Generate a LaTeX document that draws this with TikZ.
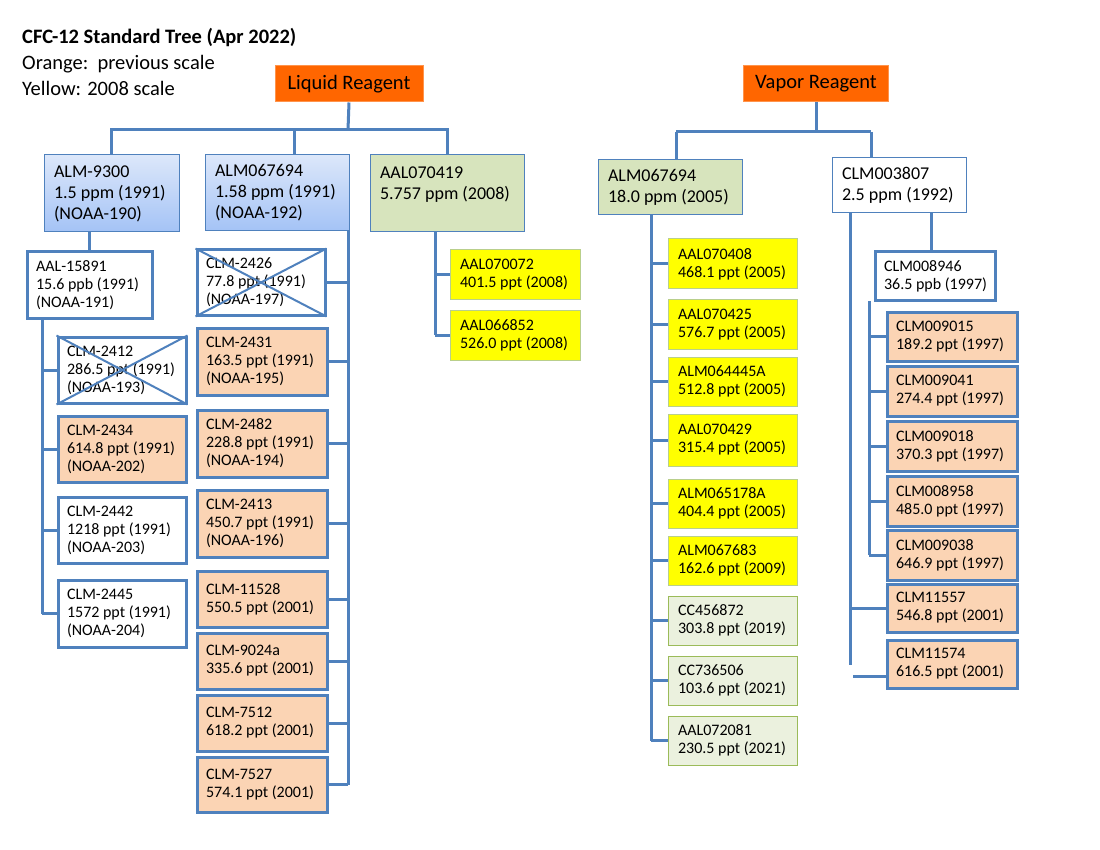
\documentclass[tikz,border=0pt]{standalone}
\usepackage{fontspec}
\setmainfont{Carlito}
\usetikzlibrary{fit}
\definecolor{ln}{HTML}{4F81BD}
\definecolor{orng}{HTML}{FF6600}
\definecolor{peach}{HTML}{FBD4B4}
\definecolor{grn}{HTML}{D7E4BD}
\definecolor{lgrn}{HTML}{EBF1DE}
\definecolor{lgb}{HTML}{9BBB59}
\definecolor{ylw}{HTML}{FFFF00}
\definecolor{bltop}{HTML}{DCE7FA}
\definecolor{blbot}{HTML}{A4C3F6}
\tikzset{
 conn/.style={draw=ln,line width=3pt},
 bx/.style={inner sep=0pt},
 thinb/.style={draw=ln,line width=1pt},
 thickb/.style={draw=ln,line width=3pt,fill=white},
 orb/.style={draw=ln,line width=3pt,fill=peach},
 yb/.style={draw=lgb!70,line width=1pt,fill=ylw},
 gb/.style={draw=lgb,line width=1pt,fill=lgrn},
 topgrn/.style={draw=ln,line width=1pt,fill=grn},
 blueg/.style={draw=ln,line width=1pt,top color=bltop,bottom color=blbot},
 head/.style={draw=orng!70,line width=1pt,fill=orng,font=\fontsize{20.5}{24}\selectfont},
 big/.style={font=\fontsize{18}{21}\selectfont},
 sm/.style={font=\fontsize{16}{18}\selectfont},
}
\newcommand{\mybx}[8]{%
 \node[bx,fit={(#2,#3)(#4,#5)},#6] (#1) {};
 \node[anchor=west,align=left,#7] (#1t) at ([xshift=7pt]#1.west) {#8};}
\begin{document}
\begin{tikzpicture}[x=1pt,y=-1pt]
\useasboundingbox[fill=white] (0,0) rectangle (1100,850);
\node[anchor=north west,align=left,inner sep=0pt,font=\fontsize{20.5}{26}\selectfont] (title) at (22,28)
 {\textbf{CFC-12 Standard Tree (Apr 2022)}\\Orange:\ \ previous scale\\Yellow: 2008 scale};
\node[head,minimum width=148pt,minimum height=36pt] (LR) at (349,84) {Liquid Reagent};
\node[head,minimum width=145pt,minimum height=36pt] (VR) at (816,84) {Vapor Reagent};
\mybx{A}{44}{155}{179}{232}{blueg}{big}{ALM-9300\\1.5 ppm (1991)\\(NOAA-190)}
\mybx{B}{205}{155}{349}{231}{blueg}{big}{ALM067694\\1.58 ppm (1991)\\(NOAA-192)}
\mybx{C}{370}{155}{524}{232}{topgrn}{big}{AAL070419\\5.757 ppm (2008)\\\mbox{}}
\coordinate (lj) at (348,130);
\draw[conn] (LR.south) -- (lj);
\draw[conn] (lj) -- (lj -| A.north) -- (A.north);
\draw[conn] (lj -| A.north) -- (lj -| C.north) -- (C.north);
\draw[conn] (lj -| 294,0) -- (B.north -| 294,0);
\mybx{A0}{27}{252}{152}{318}{thickb}{sm}{AAL-15891\\15.6 ppb (1991)\\(NOAA-191)}
\draw[conn] (A.south -| 89,0) -- (A0.north -| 89,0);
\mybx{A1}{58}{337}{186}{403}{thickb}{sm}{CLM-2412\\286.5 ppt (1991)\\(NOAA-193)}
\draw[ln,line width=2pt] (A1.north west) -- (A1.south east) (A1.south west) -- (A1.north east);
\mybx{A2}{58}{416}{186}{482}{orb}{sm}{CLM-2434\\614.8 ppt (1991)\\(NOAA-202)}
\mybx{A3}{58}{497}{186}{563}{thickb}{sm}{CLM-2442\\1218 ppt (1991)\\(NOAA-203)}
\mybx{A4}{58}{580}{186}{647}{thickb}{sm}{CLM-2445\\1572 ppt (1991)\\(NOAA-204)}
\coordinate (at) at (42,318);
\draw[conn] (at) -- (at |- A4.west);
\foreach \n in {A1,A2,A3,A4} \draw[conn] (at |- \n.west) -- (\n.west);
\mybx{B1}{197}{250}{325}{315}{thickb}{sm}{CLM-2426\\77.8 ppt (1991)\\(NOAA-197)}
\draw[ln,line width=2pt] (B1.north west) -- (B1.south east) (B1.south west) -- (B1.north east);
\mybx{B2}{197}{328}{327}{395}{orb}{sm}{CLM-2431\\163.5 ppt (1991)\\(NOAA-195)}
\mybx{B3}{197}{410}{327}{477}{orb}{sm}{CLM-2482\\228.8 ppt (1991)\\(NOAA-194)}
\mybx{B4}{197}{490}{327}{557}{orb}{sm}{CLM-2413\\450.7 ppt (1991)\\(NOAA-196)}
\mybx{B5}{197}{571}{327}{627}{orb}{sm}{CLM-11528\\550.5 ppt (2001)}
\mybx{B6}{197}{633}{327}{689}{orb}{sm}{CLM-9024a\\335.6 ppt (2001)}
\mybx{B7}{197}{695}{327}{751}{orb}{sm}{CLM-7512\\618.2 ppt (2001)}
\mybx{B8}{197}{757}{327}{812}{orb}{sm}{CLM-7527\\574.1 ppt (2001)}
\coordinate (bt) at (348,231);
\draw[conn] (bt) -- (bt |- B8.east);
\foreach \n in {B1,B2,B3,B4,B5,B6,B7,B8} \draw[conn] (bt |- \n.east) -- (\n.east);
\mybx{C1}{450}{250}{580}{300}{yb}{sm}{AAL070072\\401.5 ppt (2008)}
\mybx{C2}{450}{310}{580}{360}{yb}{sm}{AAL066852\\526.0 ppt (2008)}
\coordinate (ct) at (435,232);
\draw[conn] (ct) -- (ct |- C2.west);
\foreach \n in {C1,C2} \draw[conn] (ct |- \n.west) -- (\n.west);
\mybx{D}{598}{160}{742}{215}{topgrn}{big}{ALM067694\\18.0 ppm (2005)}
\mybx{E}{832}{158}{966}{213}{thinb}{big}{CLM003807\\2.5 ppm (1992)}
\coordinate (vj) at (816,132);
\draw[conn] (VR.south) -- (vj);
\draw[conn] (vj -| 676,0) -- (vj -| 871,0);
\draw[conn] (vj -| 676,0) -- (D.north -| 676,0);
\draw[conn] (vj -| 871,0) -- (E.north -| 871,0);
\mybx{D1}{668}{239}{797}{289}{yb}{sm}{AAL070408\\468.1 ppt (2005)}
\mybx{D2}{668}{300}{797}{349}{yb}{sm}{AAL070425\\576.7 ppt (2005)}
\mybx{D3}{668}{357}{797}{406}{yb}{sm}{ALM064445A\\512.8 ppt (2005)}
\mybx{D4}{668}{414}{797}{466}{yb}{sm}{AAL070429\\315.4 ppt (2005)}
\mybx{D5}{668}{479}{797}{528}{yb}{sm}{ALM065178A\\404.4 ppt (2005)}
\mybx{D6}{668}{536}{797}{585}{yb}{sm}{ALM067683\\162.6 ppt (2009)}
\mybx{D7}{668}{596}{797}{645}{gb}{sm}{CC456872\\303.8 ppt (2019)}
\mybx{D8}{668}{656}{797}{705}{gb}{sm}{CC736506\\103.6 ppt (2021)}
\mybx{D9}{668}{716}{797}{765}{gb}{sm}{AAL072081\\230.5 ppt (2021)}
\coordinate (dt) at (651,215);
\draw[conn] (dt) -- (dt |- D9.west);
\foreach \n in {D1,D2,D3,D4,D5,D6,D7,D8,D9} \draw[conn] (dt |- \n.west) -- (\n.west);
\mybx{F}{875}{252}{995}{301}{thickb}{sm}{CLM008946\\36.5 ppb (1997)}
\draw[conn] (E.south -| 931,0) -- (F.north -| 931,0);
\mybx{F1}{887}{312}{1017}{361}{orb}{sm}{CLM009015\\189.2 ppt (1997)}
\mybx{F2}{887}{366}{1017}{416}{orb}{sm}{CLM009041\\274.4 ppt (1997)}
\mybx{F3}{887}{421}{1017}{471}{orb}{sm}{CLM009018\\370.3 ppt (1997)}
\mybx{F4}{887}{476}{1017}{526}{orb}{sm}{CLM008958\\485.0 ppt (1997)}
\mybx{F5}{887}{530}{1017}{580}{orb}{sm}{CLM009038\\646.9 ppt (1997)}
\coordinate (ft) at (869,301);
\draw[conn] (ft) -- (ft |- F5.west);
\foreach \n in {F1,F2,F3,F4,F5} \draw[conn] (ft |- \n.west) -- (\n.west);
\mybx{G1}{887}{584}{1017}{632}{orb}{sm}{CLM11557\\546.8 ppt (2001)}
\mybx{G2}{887}{640}{1017}{688}{orb}{sm}{CLM11574\\616.5 ppt (2001)}
\coordinate (et) at (850,213);
\draw[conn] (et) -- (850,665);
\draw[conn] (et |- G1.west) -- (G1.west);
\draw[conn] (853,676) -- (G2.west |- 0,676);
\end{tikzpicture}
\end{document}
